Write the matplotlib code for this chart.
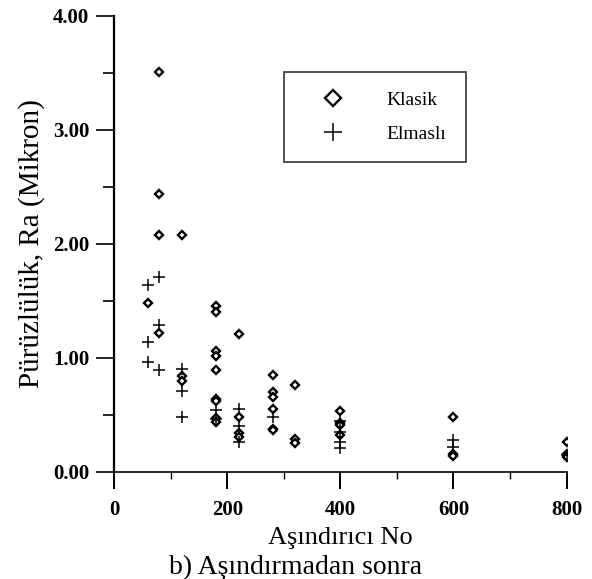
import matplotlib.pyplot as plt
from matplotlib.ticker import MultipleLocator, FormatStrFormatter

# Surface roughness after grinding, per abrasive grit number
x_klasik = [60,
            80, 80, 80, 80,
            120, 120, 120,
            180, 180, 180, 180, 180, 180, 180, 180, 180,
            220, 220, 220, 220,
            280, 280, 280, 280, 280, 280,
            320, 320, 320,
            400, 400, 400, 400,
            600, 600, 600,
            800, 800, 800]
y_klasik = [1.48,
            3.51, 2.44, 2.08, 1.22,
            2.08, 0.84, 0.80,
            1.45, 1.40, 1.06, 1.02, 0.89, 0.64, 0.62, 0.47, 0.44,
            1.21, 0.48, 0.34, 0.31,
            0.85, 0.70, 0.66, 0.55, 0.38, 0.37,
            0.76, 0.29, 0.25,
            0.53, 0.43, 0.41, 0.32,
            0.48, 0.16, 0.14,
            0.26, 0.16, 0.13]

x_elmasli = [60, 60, 60,
             80, 80, 80,
             120, 120, 120,
             180, 180,
             220, 220, 220,
             280,
             400, 400, 400, 400,
             600, 600,
             800]
y_elmasli = [1.64, 1.14, 0.96,
             1.71, 1.29, 0.89,
             0.90, 0.71, 0.48,
             0.54, 0.46,
             0.55, 0.40, 0.26,
             0.48,
             0.45, 0.35, 0.26, 0.21,
             0.28, 0.22,
             0.15]

plt.rcParams['font.family'] = ['Liberation Serif', 'DejaVu Serif']

fig = plt.figure(figsize=(5.92, 5.79), dpi=100)
ax = fig.add_axes([0.193, 0.185, 0.764, 0.788])

ax.plot(x_klasik, y_klasik, 'D', ms=4.5, mfc='white', mec='black', mew=1.7,
        linestyle='none', label='Klasik')
ax.plot(x_elmasli, y_elmasli, '+', ms=8, mec='black', mew=1.1,
        linestyle='none', label='Elmaslı')

ax.set_xlim(0, 800)
ax.set_ylim(0, 4)
ax.spines['top'].set_visible(False)
ax.spines['right'].set_visible(False)
ax.spines['left'].set_linewidth(1.6)
ax.spines['bottom'].set_linewidth(1.2)

ax.xaxis.set_major_locator(MultipleLocator(200))
ax.xaxis.set_minor_locator(MultipleLocator(100))
ax.yaxis.set_major_locator(MultipleLocator(1))
ax.yaxis.set_minor_locator(MultipleLocator(0.5))
ax.yaxis.set_major_formatter(FormatStrFormatter('%.2f'))

ax.tick_params(axis='y', which='major', direction='out', length=13, width=1.2, pad=5)
ax.tick_params(axis='y', which='minor', direction='out', length=8, width=1.2)
ax.tick_params(axis='x', which='major', direction='out', length=12, width=1.4, pad=8)
ax.tick_params(axis='x', which='minor', direction='out', length=5, width=1.0)
for lbl in ax.get_xticklabels() + ax.get_yticklabels():
    lbl.set_fontweight('bold')
    lbl.set_fontsize(15)

ax.set_ylabel('Pürüzlülük, Ra (Mikron)', fontsize=21, labelpad=6)
ax.set_xlabel('Aşındırıcı No', fontsize=19, labelpad=5)
fig.text(0.50, 0.008, 'b) Aşındırmadan sonra', fontsize=20, ha='center')

leg = ax.legend(loc='upper left', bbox_to_anchor=(0.376, 0.877), frameon=True,
                fancybox=False, edgecolor='black', fontsize=14,
                borderpad=1.0, labelspacing=0.85, handletextpad=1.25,
                handlelength=3.0, markerscale=1.7, borderaxespad=0)
leg.get_frame().set_linewidth(1.2)

fig.savefig('out.png', dpi=100)
